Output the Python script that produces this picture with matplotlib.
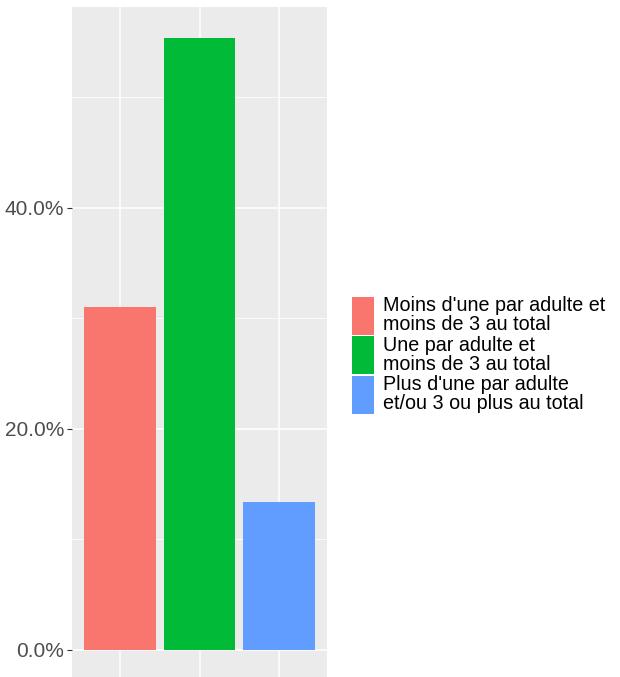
import matplotlib
matplotlib.use("Agg")
import matplotlib.pyplot as plt
from matplotlib.patches import Rectangle
from matplotlib.ticker import FixedLocator, FuncFormatter

categories = ["Moins d'une par adulte et\nmoins de 3 au total",
              "Une par adulte et\nmoins de 3 au total",
              "Plus d'une par adulte\net/ou 3 ou plus au total"]
values = [31.0, 55.4, 13.4]
colors = ["#F8766D", "#00BA38", "#619CFF"]
y_major = [0, 20, 40]
y_minor = [10, 30, 50]

plt.rcParams['font.family'] = ['Liberation Sans', 'DejaVu Sans']

W, H = 620, 677
fig = plt.figure(figsize=(W / 100, H / 100), dpi=100)
ax = fig.add_axes([72 / W, -3.6 / H, 255 / W, (677 - 7 + 3.6) / H])
ax.set_facecolor("#EBEBEB")

x = list(range(1, len(values) + 1))
ax.bar(x, values, width=0.9, color=colors, zorder=3)

ymax = max(values) * 1.05
ax.set_ylim(-max(values) * 0.05, ymax)
ax.set_xlim(0.4, 3.6)

ax.yaxis.set_major_locator(FixedLocator(y_major))
ax.yaxis.set_minor_locator(FixedLocator(y_minor))
ax.yaxis.set_major_formatter(FuncFormatter(lambda v, p: f"{v:.1f}%"))
ax.set_xticks(x)
ax.set_xticklabels([])
ax.grid(True, which="major", color="white", linewidth=1.1, zorder=0)
ax.grid(True, which="minor", axis="y", color="white", linewidth=0.55, zorder=0)
ax.tick_params(axis="y", which="major", length=3.5, width=0.8, color="#333333",
               labelsize=15, labelcolor="#4D4D4D", pad=2)
ax.tick_params(axis="y", which="minor", length=0)
ax.tick_params(axis="x", length=3.5, color="#333333")
for s in ax.spines.values():
    s.set_visible(False)

# legend
key_x, key_w, key_h = 352, 22, 39.5
y0 = 296
for i, (lab, c) in enumerate(zip(categories, colors)):
    top = y0 + i * key_h
    fig.patches.append(Rectangle((key_x / W, 1 - (top + key_h - 1) / H), key_w / W, (key_h - 1.5) / H,
                                 transform=fig.transFigure, facecolor=c, edgecolor="none"))
    fig.text(383 / W, 1 - (top + key_h / 2 - 0.5) / H, lab, fontsize=14.2, color="black",
             va="center", ha="left", linespacing=1.0)

fig.savefig("out.png", dpi=100)
